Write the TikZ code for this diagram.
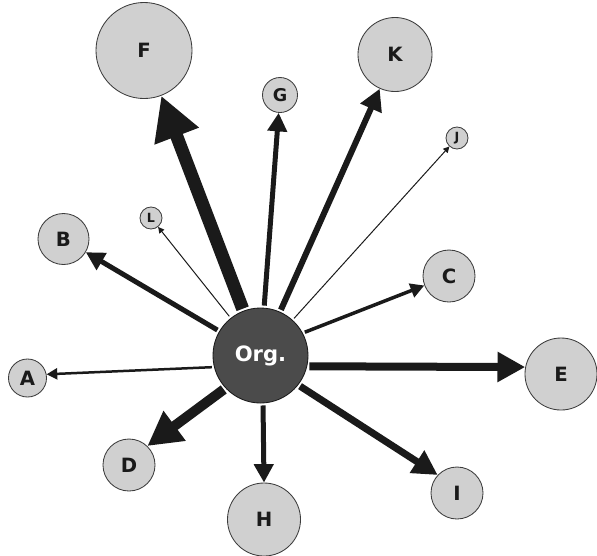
\documentclass[tikz,border=0pt]{standalone}
\usepackage{fontspec}
\setmainfont{DejaVu Sans}
\usetikzlibrary{arrows.meta}
\definecolor{nodegray}{HTML}{D0D0D0}
\definecolor{hubgray}{HTML}{4B4B4B}
\definecolor{inkgray}{HTML}{1A1A1A}

\begin{document}
\begin{tikzpicture}[
    x=0.025cm, y=-0.025cm,
    disc/.style={circle, draw=inkgray!85, line width=0.6pt, fill=nodegray, inner sep=0pt, minimum size=#1*0.7113pt, text=inkgray, font=\bfseries\fontsize{14}{14}\selectfont},
    minor/.style={font=\bfseries\fontsize{9}{10}\selectfont},
    hub/.style={circle, draw=inkgray, line width=0.6pt, fill=hubgray, inner sep=0pt, minimum size=95*0.7113pt, text=white, font=\bfseries\fontsize{15}{15}\selectfont},
    flow/.style={draw=inkgray, line width=#1*0.7113pt, shorten <=1.5pt, -{Triangle[length=2.1pt 3.1, width=2.1pt 3.2]}}
]
\useasboundingbox (0,0) rectangle (597,555);

\node[hub] (org) at (260.5,355.5) {Org.};

\node[disc=96] (f) at (144,50.5) {F};
\node[disc=35, font=\bfseries\fontsize{12.5}{13}\selectfont] (g) at (280,95) {G};
\node[disc=74] (k) at (395,54.5) {K};
\node[disc=22, minor] (j) at (457,138) {J};
\node[disc=22, minor] (l) at (151,218) {L};
\node[disc=51] (b) at (63.5,239) {B};
\node[disc=52] (c) at (449,276) {C};
\node[disc=38] (a) at (27.5,378) {A};
\node[disc=72] (e) at (561,374) {E};
\node[disc=52] (d) at (129,465) {D};
\node[disc=73] (h) at (264,519.5) {H};
\node[disc=52] (i) at (457,493) {I};

\draw[flow=13] (org) -- (f);
\draw[flow=5] (org) -- (g);
\draw[flow=6] (org) -- (k);
\draw[flow=1] (org) -- (j);
\draw[flow=1] (org) -- (l);
\draw[flow=5] (org) -- (b);
\draw[flow=3.5] (org.28) -- (c.201);
\draw[flow=2.5] (org.194) -- (a.11);
\draw[flow=8] (org.-13) -- (e.169);
\draw[flow=10] (org.223) -- (d.46);
\draw[flow=5] (org.-87) -- (h.north);
\draw[flow=7] (org.-38) -- (i.137);
\end{tikzpicture}
\end{document}
